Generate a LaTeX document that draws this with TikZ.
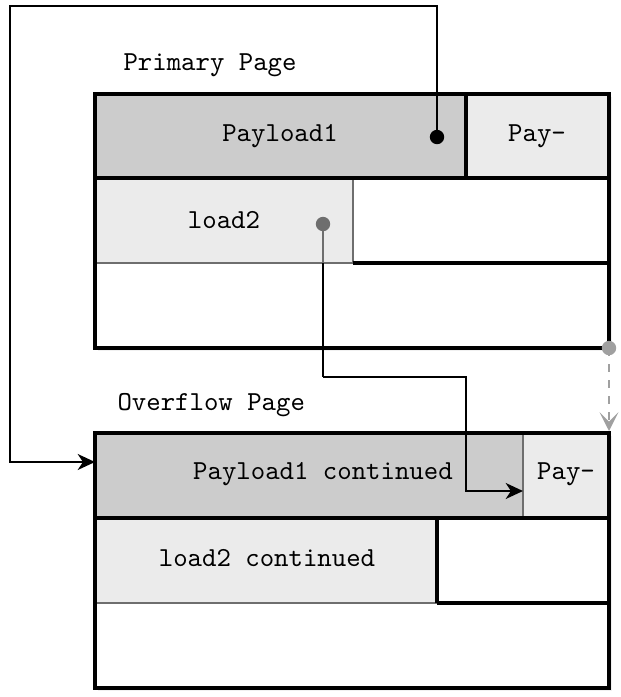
\documentclass[tikz,border=0pt]{standalone}
\usepackage{tikz}
\usetikzlibrary{positioning,arrows.meta,shadows}
\tikzstyle{pageGrid} = [x = .375pt, y = -.375pt, font=\ttfamily\fontsize{10.3}{12}\selectfont]
\definecolor{darkCell}{RGB}{204,204,204}
\definecolor{lightCell}{RGB}{235,235,235}
\definecolor{cellEdge}{RGB}{110,110,110}
\definecolor{linkGray}{RGB}{160,160,160}
\tikzstyle{pageFrame} = [line width=1.35pt, fill=white, drop shadow={opacity=.12, shadow xshift=1pt, shadow yshift=-1pt}]
\tikzstyle{pageLine} = [line width=1.35pt]
\tikzstyle{darkCellStyle} = [fill=darkCell, draw=cellEdge, line width=1.1pt]
\tikzstyle{lightCellStyle} = [fill=lightCell, draw=cellEdge, line width=1.1pt]
\tikzstyle{cellText} = [inner sep=0pt]
\tikzstyle{pointerDot} = [circle, fill=black, inner sep=0pt, minimum size=5.4pt]
\tikzstyle{pointerLine} = [line width=.8pt, -{Stealth[length=6.5pt, width=6pt, inset=2pt]}]
\newcommand{\pageBox}[2]{\draw [pageFrame] (95,#1) rectangle (609,#2);}
\newcommand{\cell}[5]{\filldraw [#5] (#1,#2) rectangle (#3,#4);}

\begin{document}
\begin{tikzpicture}[pageGrid]
        \useasboundingbox (0,0) rectangle (621,697);

        % primary page
        \node [cellText, anchor=base west] (primaryLabel) at (123,70) {Primary Page};
        \pageBox{94}{348}
        \cell{95}{94}{466}{178}{darkCellStyle}
        \cell{466}{94}{609}{178}{lightCellStyle}
        \cell{95}{178}{353}{263}{lightCellStyle}
        \draw [pageLine] (95,178) -- (609,178);
        \draw [pageLine] (466,94) -- (466,178);
        \draw [pageLine] (353,263) -- (609,263);
        \draw [pageLine] (95,94) rectangle (609,348);
        \node [cellText] (payloadA) at (280,136) {Payload1};
        \node [cellText] (payA) at (537,136) {Pay-};
        \node [cellText] (loadA) at (224,220) {load2};

        % overflow page
        \node [cellText, anchor=base west] (overflowLabel) at (117,410) {Overflow Page};
        \pageBox{433}{688}
        \cell{95}{433}{523}{518}{darkCellStyle}
        \cell{523}{433}{609}{518}{lightCellStyle}
        \cell{95}{518}{437}{603}{lightCellStyle}
        \draw [pageLine] (95,518) -- (609,518);
        \draw [pageLine] (437,518) -- (437,603);
        \draw [pageLine] (437,603) -- (609,603);
        \draw [pageLine] (95,433) rectangle (609,688);
        \node [cellText] (payloadB) at (323,474) {Payload1 continued};
        \node [cellText] (payB) at (566,474) {Pay-};
        \node [cellText] (loadB) at (267,558) {load2 continued};

        % pointers
        \node [pointerDot] (srcA) at (437,137) {};
        \coordinate (dstA) at (95,462);
        \draw [pointerLine] (srcA.center) |- (10,6) |- (dstA);

        \coordinate (bendB) at (323,377);
        \coordinate (dstB) at (523,491);
        \draw [pointerLine] (bendB) -| (466,491) -- (dstB);
        \node [pointerDot, fill=cellEdge] (srcB) at (323,224) {};
        \draw [line width=.8pt, cellEdge] (srcB.center) -- (323,263);
        \draw [line width=.8pt] (323,263) -- (bendB);

        \node [pointerDot, fill=linkGray] (nextSrc) at (609,348) {};
        \coordinate (nextDst) at (609,431);
        \draw [line width=.8pt, linkGray, dashed, -{Stealth[length=7pt, width=7pt, inset=3.5pt]}] (nextSrc.center) -- (nextDst);
      \end{tikzpicture}
\end{document}
